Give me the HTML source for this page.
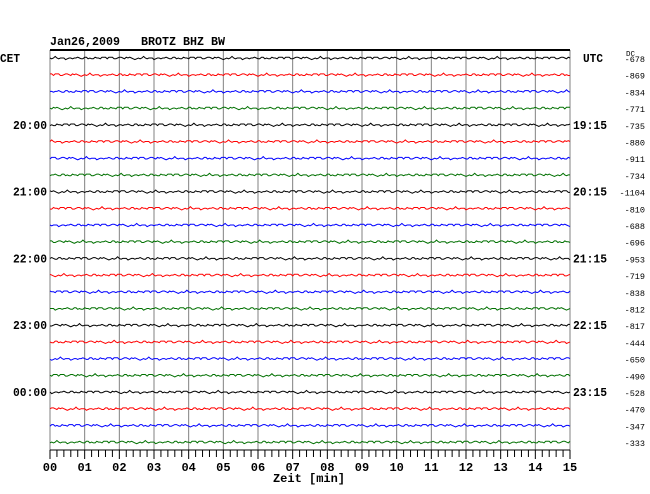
<!DOCTYPE html>
<html><head><meta charset="utf-8"><style>
body{margin:0;background:#fff;}
svg{display:block;font-family:"Liberation Mono",monospace;}
text{white-space:pre;}
</style></head><body>
<svg id="c" width="650" height="494"></svg>
<script>
const timeLabelsCET=["CET","","","","20:00","","","","21:00","","","","22:00","","","","23:00","","","","00:00","","",""];
const timeLabelsUTC=["UTC","","","","19:15","","","","20:15","","","","21:15","","","","22:15","","","","23:15","","",""];
const dcValues=[-678,-869,-834,-771,-735,-880,-911,-734,-1104,-810,-688,-696,-953,-719,-838,-812,-817,-444,-650,-490,-528,-470,-347,-333];
const minuteTicks=["00","01","02","03","04","05","06","07","08","09","10","11","12","13","14","15"];
const noiseSamples=[0,1,-1,0,1,0,-1,1,0,0,-1,1,2,-1,0,1,-1,0,0,1,-1,-2,1,0,1,-1,0,1,0,-1,1,1,-1,0,-1,1,0,2,-1,0,1,-1,0,0,1,-1,1,0,-1,0,1];
const colors=["#000","#f00","#00f","#007000"];
const NS="http://www.w3.org/2000/svg";
const svg=document.getElementById('c');
const x0=50,x1=570,yTop=50,yBot=450,rowY0=58,rowDy=16.7;
const xScale=m=>x0+(x1-x0)*m/15;
const rowY=i=>rowY0+i*rowDy;
function mk(t,a){const e=document.createElementNS(NS,t);for(const k in a)e.setAttribute(k,a[k]);svg.appendChild(e);return e;}
let e=mk('text',{x:50,y:45,'font-size':12,'font-weight':'bold',textLength:175,lengthAdjust:'spacingAndGlyphs'});e.textContent="Jan26,2009   BROTZ BHZ BW";


for(let m=0;m<=15;m++){
 e=mk('line',{x1:xScale(m),x2:xScale(m),y1:yTop,y2:yBot,stroke:'#808080','stroke-width':1});
 
 
}
e=mk('line',{x1:x0,x2:x1,y1:yTop,y2:yTop,stroke:'#000','stroke-width':2});


dcValues.forEach((dc,i)=>{
 const y=rowY(i);let d="";
 const n=300;
 for(let k=0;k<=n;k++){
  const v=noiseSamples[(k*7+i*13)%noiseSamples.length];
  const x=x0+(x1-x0)*k/n;
  d+=(k?"L":"M")+x.toFixed(1)+","+(y+v*0.8).toFixed(1);
 }
 e=mk('path',{d:d,fill:'none',stroke:colors[i%4],'stroke-width':1});
 
 
 e=mk('text',{x:645,y:y+4,'font-size':8.5,'text-anchor':'end'});e.textContent=dc;
 
 
 if(timeLabelsCET[i]){
  const a={x:i==0?0:13,y:y+4,'font-size':12,'font-weight':'bold',lengthAdjust:'spacingAndGlyphs',textLength:i==0?20:34};
  e=mk('text',a);e.textContent=timeLabelsCET[i];
  
  
 }
 if(timeLabelsUTC[i]){
  const a={x:i==0?583:573,y:y+4,'font-size':12,'font-weight':'bold',lengthAdjust:'spacingAndGlyphs',textLength:i==0?20:34};
  e=mk('text',a);e.textContent=timeLabelsUTC[i];
  
  
 }
});
e=mk('text',{x:626,y:56,'font-size':7.5});e.textContent="DC";


e=mk('line',{x1:x0,x2:x1,y1:yBot,y2:yBot,stroke:'#000','stroke-width':1});


for(let k=0;k<=75;k++){
 const x=xScale(k/5);
 e=mk('line',{x1:x,x2:x,y1:yBot,y2:yBot+(k%5==0?9:7),stroke:'#000','stroke-width':1});
 
 
}
minuteTicks.forEach((t,m)=>{
 e=mk('text',{x:xScale(m),y:471,'font-size':12,'font-weight':'bold','text-anchor':'middle'});e.textContent=t;
 
 
});
e=mk('text',{x:309,y:482,'font-size':12,'font-weight':'bold','text-anchor':'middle'});e.textContent="Zeit [min]";


</script>
</body></html>
